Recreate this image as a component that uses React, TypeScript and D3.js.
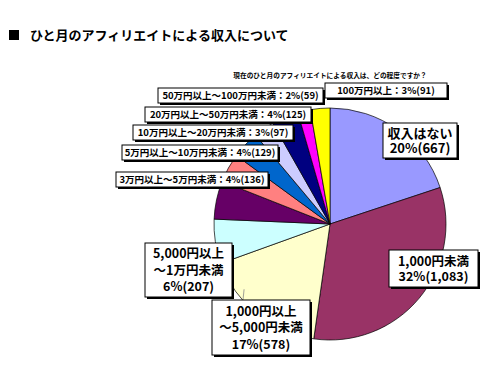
import React, { useEffect } from "react";
import * as d3 from "d3";

const categories = [
  "収入はない",
  "1,000円未満",
  "1,000円以上～5,000円未満",
  "5,000円以上～1万円未満",
  "1万円以上～3万円未満",
  "3万円以上～5万円未満",
  "5万円以上～10万円未満",
  "10万円以上～20万円未満",
  "20万円以上～50万円未満",
  "50万円以上～100万円未満",
  "100万円以上",
];
const counts = [667, 1083, 578, 207, 178, 136, 129, 97, 125, 59, 91];
const percents = [20, 32, 17, 6, 5, 4, 4, 3, 4, 2, 3];
const colors = [
  "#9999FF", "#993366", "#FFFFCC", "#CCFFFF", "#660066",
  "#FF8080", "#0066CC", "#CCCCFF", "#000080", "#FF00FF", "#FFFF00",
];

const title = "ひと月のアフィリエイトによる収入について";
const subtitle = "現在のひと月のアフィリエイトによる収入は、どの程度ですか？";

// label box layout (index into categories)
const labelLayout = [
  { i: 0, x: 383, y: 123, w: 74, h: 35, fs: 13, lh: 15, lines: ["収入はない", "{p}%({c})"] },
  { i: 1, x: 389, y: 250, w: 89, h: 37, fs: 12.5, lh: 15, lines: ["1,000円未満", "{p}%({c})"] },
  { i: 2, x: 212, y: 300, w: 98, h: 55, fs: 12.5, lh: 16.5, lines: ["1,000円以上", "～5,000円未満", "{p}%({c})"] },
  { i: 3, x: 145, y: 243, w: 87, h: 54, fs: 12.5, lh: 16.5, lines: ["5,000円以上", "～1万円未満", "{p}%({c})"] },
  { i: 5, x: 116, y: 172, w: 152, h: 15, fs: 9.5, lh: 0, lines: ["{n}：{p}%({c})"] },
  { i: 6, x: 122, y: 145, w: 156, h: 15, fs: 9.5, lh: 0, lines: ["{n}：{p}%({c})"] },
  { i: 7, x: 133, y: 125, w: 160, h: 15, fs: 9.5, lh: 0, lines: ["{n}：{p}%({c})"] },
  { i: 8, x: 145, y: 107, w: 166, h: 15, fs: 9.5, lh: 0, lines: ["{n}：{p}%({c})"] },
  { i: 9, x: 158, y: 88, w: 165, h: 15, fs: 9.5, lh: 0, lines: ["{n}：{p}%({c})"] },
  { i: 10, x: 325, y: 83, w: 122, h: 15, fs: 9.5, lh: 0, lines: ["{n}：{p}%({c})"] },
];

const W = 500;
const H = 370;
const CX = 330;
const CY = 224;
const R = 116;
const FONT = "'Noto Sans CJK JP', sans-serif";

export default function App() {
  useEffect(() => {
    document.body.style.margin = "0";
  }, []);

  const data = categories.map((name, i) => ({ name, value: counts[i], i }));
  const pie = d3.pie<any>().value((d) => d.value).sort(null).startAngle(0).endAngle(2 * Math.PI);
  const arcs = pie(data);
  const arcGen = d3.arc<any>().innerRadius(0).outerRadius(R);

  const fmt = d3.format(",");
  const fill = (s: string, i: number) =>
    s.replace("{n}", categories[i]).replace("{p}", String(percents[i])).replace("{c}", fmt(counts[i]));

  // leader line for the 1,000-5,000 label, from its slice's outer edge
  const a2 = arcs[2];
  const leadAngle = a2.startAngle + (a2.endAngle - a2.startAngle) * 0.72;
  const leadR = R * 0.93;
  const lx = CX + Math.sin(leadAngle) * leadR;
  const ly = CY - Math.cos(leadAngle) * leadR;

  return (
    <svg width={W} height={H} style={{ display: "block", background: "#fff" }} fontFamily={FONT}>
      <rect x={9} y={30} width={10} height={10} fill="#000" />
      <text x={30} y={40} fontSize={13} fontWeight="bold" fill="#000">{title}</text>
      <text x={330} y={78} fontSize={6.7} fontWeight="bold" textAnchor="middle" fill="#000">{subtitle}</text>
      <g transform={`translate(${CX},${CY})`}>
        {arcs.map((a, k) => (
          <path key={k} d={arcGen(a) as string} fill={colors[a.data.i]} stroke="#000" strokeWidth={0.7} />
        ))}
      </g>
      <line x1={lx} y1={ly} x2={243} y2={300} stroke="#888" strokeWidth={0.8} />
      {labelLayout.map((L, k) => {
        const startY = L.y + L.h / 2 - ((L.lines.length - 1) * L.lh) / 2;
        return (
          <g key={k}>
            <rect x={L.x + 2} y={L.y + 2} width={L.w} height={L.h} fill="#000" />
            <rect x={L.x} y={L.y} width={L.w} height={L.h} fill="#fff" stroke="#000" strokeWidth={1} />
            {L.lines.map((ln, j) => (
              <text
                key={j}
                x={L.x + L.w / 2}
                y={startY + j * L.lh}
                dy="0.36em"
                fontSize={L.fs}
                fontWeight="bold"
                textAnchor="middle"
                fill="#000"
              >
                {fill(ln, L.i)}
              </text>
            ))}
          </g>
        );
      })}
    </svg>
  );
}
